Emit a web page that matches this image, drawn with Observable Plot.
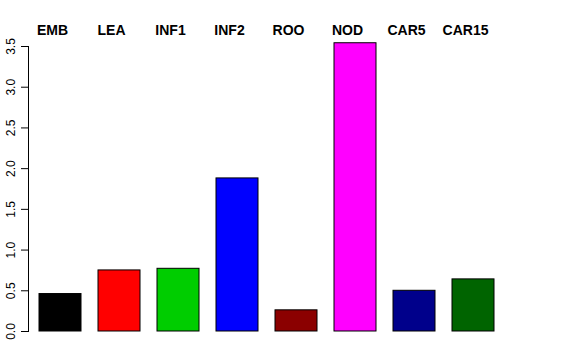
<!DOCTYPE html>
<html><head><meta charset="utf-8">
<script src="https://cdn.jsdelivr.net/npm/d3@7"></script>
<script src="https://cdn.jsdelivr.net/npm/@observablehq/plot@0.6"></script>
<style>body{margin:0;background:#fff}</style>
</head><body><div id="chart"></div>
<script>
const categories = ["EMB","LEA","INF1","INF2","ROO","NOD","CAR5","CAR15"];
const values = [0.46,0.75,0.77,1.88,0.26,3.54,0.50,0.64];
const colors = ["#000000","#FF0000","#00CD00","#0000FF","#8B0000","#FF00FF","#00008B","#006400"];
const yTicks = [0,0.5,1,1.5,2,2.5,3,3.5];
const data = categories.map((c,i)=>({category:c, value:values[i], color:colors[i]}));
const chart = Plot.plot({
  width:576, height:360, marginLeft:28, marginRight:73, marginTop:46, marginBottom:29,
  style:{fontFamily:"'Liberation Sans', Arial, sans-serif", background:"#fff", color:"#000"},
  x:{domain:categories, range:[29.7,503.3], paddingInner:0.29, paddingOuter:0.145, axis:null},
  y:{domain:[0,3.5], range:[331,46]},
  color:{type:"identity"},
  marks:[
    Plot.barY(data,{x:"category", y:"value", fill:"color", stroke:"#000", strokeWidth:1}),
    Plot.axisY(yTicks,{tickSize:7, tickPadding:7, tickRotate:-90, tickFormat:d=>d.toFixed(1), fontSize:12, label:null}),
    Plot.frame({anchor:"left"}),
    Plot.text(data,{x:"category", frameAnchor:"top", lineAnchor:"middle", dy:-16, dx:-8, text:"category", fontWeight:"bold", fontSize:14})
  ]
});
document.getElementById("chart").appendChild(chart);
</script>
</body></html>
